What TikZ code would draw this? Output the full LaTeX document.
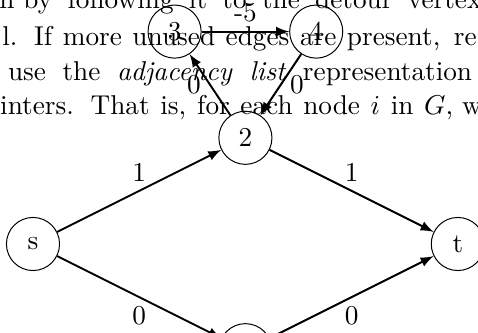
\documentclass[tikz,border=0pt]{standalone}
\usetikzlibrary{arrows.meta}
\begin{document}
\begin{tikzpicture}[x=1cm,y=1cm,
  vtx/.style={circle,draw,minimum size=0.75cm,inner sep=0pt,font=\fontsize{10.95}{13.6}\selectfont},
  arc/.style={-latex,thick},
  lbl/.style={font=\fontsize{10.95}{13.6}\selectfont},
  txt/.style={anchor=base west,inner sep=0pt,font=\fontsize{10.95}{13.6}\selectfont}]
\useasboundingbox (-0.466,-1.243) rectangle (6.285,3.446);
\begin{scope}
\clip (-0.466,-1.243) rectangle (6.285,3.446);
% background text lines
\node[txt] (l1) at (-0.141,3.32) {\llap{path }\makebox[184pt][s]{by following it to the detour vertex}};
\node[txt] (l2) at (-0.44,2.81) {\makebox[176pt][s]{l. If more unused edges are present,}\rlap{\hspace{5.5pt}re}};
\node[txt] (l3) at (-0.36,2.316) {\makebox[186.5pt][s]{use the \textit{adjacency list} representation}};
\node[txt] (l4) at (-0.47,1.822) {\makebox[182pt][s]{inters. That is, for each node $i$ in $G$,}\rlap{ we}};
% graph
\node[vtx] (s) at (0,0) {s};
\node[vtx] (n2) at (3,1.5) {2};
\node[vtx] (n1) at (3,-1.5) {};
\node[vtx] (t) at (6,0) {t};
\node[vtx] (n3) at (2,3) {3};
\node[vtx] (n4) at (4,3) {4};
\draw[arc] (s) -- node[lbl,above] {1} (n2);
\draw[arc] (s) -- node[lbl,below] {0} (n1);
\draw[arc] (n2) -- node[lbl,above] {1} (t);
\draw[arc] (n1) -- node[lbl,below] {0} (t);
\draw[arc] (n2) -- node[lbl,left] {0} (n3);
\draw[arc] (n4) -- node[lbl,right] {0} (n2);
\draw[arc] (n3) -- node[lbl,above] {-5} (n4);
\end{scope}
\end{tikzpicture}
\end{document}
